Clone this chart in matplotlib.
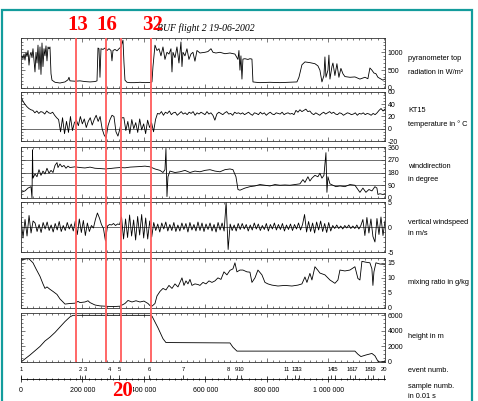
import numpy as np
import matplotlib
matplotlib.use("Agg")
import matplotlib.pyplot as plt
from matplotlib.ticker import MultipleLocator
from matplotlib.patches import Rectangle

plt.rcParams['font.family'] = ['Liberation Sans', 'DejaVu Sans']

# x values: sample number in thousands (1 sample = 0.01 s)
XMAX = 1184

pyr_t = [0, 3.3, 6.5, 9.8, 13, 16.3, 19.5, 22.8, 26, 29.3,
         32.5, 35.8, 39, 42.3, 45.5, 48.8, 52, 55.3, 58.5, 61.8,
         65, 68.3, 71.5, 74.8, 78, 81.3, 84.5, 87.8, 91.1, 94.3,
         97.6, 100.8, 110.6, 126.8, 143.1, 152.8, 156.1, 159.3, 175.6, 191.9,
         208.1, 224.4, 240.6, 247.2, 250.4, 253.7, 256.9, 260.2, 266.7, 273.2,
         279.7, 286.2, 292.7, 295.9, 299.2, 305.7, 312.2, 318.7, 325.2, 331.7,
         335, 338.2, 344.7, 354.5, 370.7, 387, 403.2, 419.5, 426, 429.3,
         435.8, 442.3, 448.8, 455.3, 461.8, 468.3, 474.8, 481.3, 487.8, 491.1,
         494.3, 500.8, 507.3, 513.8, 520.3, 523.6, 526.8, 533.3, 539.8, 546.3,
         552.8, 559.3, 565.8, 572.4, 582.1, 598.4, 608.1, 617.9, 624.4, 634.1,
         647.1, 663.4, 679.7, 695.9, 705.7, 708.9, 712.2, 715.4, 718.7, 721.9,
         728.4, 738.2, 744.7, 751.2, 754.5, 764.2, 777.2, 809.7, 842.3, 874.8,
         897.6, 904.1, 913.8, 923.6, 939.8, 956.1, 965.8, 972.3, 978.9, 985.4,
         988.6, 991.9, 998.4, 1001.6, 1004.9, 1011.4, 1014.6, 1021.1, 1027.6, 1034.1,
         1040.6, 1047.1, 1053.6, 1069.9, 1086.2, 1102.4, 1118.7, 1128.4, 1134.9, 1141.4,
         1147.9, 1154.5, 1161, 1170.7, 1177.2, 1183.7]
pyr_v = [870, 900, 820, 950, 780, 1000, 880, 1050, 640, 920,
         1000, 850, 1100, 780, 450, 1000, 700, 1200, 520, 1150,
         380, 1260, 600, 1100, 900, 1180, 760, 1150, 1100, 1150,
         400, 220, 160, 140, 170, 230, 300, 200, 190, 200,
         180, 170, 180, 200, 1120, 1100, 300, 1100, 1080, 1120,
         1050, 1100, 1050, 760, 1050, 1080, 1040, 1100, 1150, 1340,
         700, 220, 160, 150, 150, 160, 150, 155, 170, 600,
         1200, 1050, 1100, 900, 1150, 800, 1000, 950, 1100, 450,
         1000, 850, 1150, 700, 1290, 600, 1000, 900, 1100, 800,
         950, 1000, 750, 1050, 980, 1000, 1020, 1100, 1000, 980,
         1000, 960, 980, 950, 800, 1050, 500, 900, 250, 810,
         820, 800, 820, 810, 170, 160, 150, 160, 150, 160,
         170, 300, 650, 730, 710, 680, 620, 500, 170, 350,
         870, 300, 500, 920, 250, 600, 700, 350, 680, 300,
         550, 400, 320, 300, 310, 250, 300, 260, 560, 500,
         420, 400, 300, 250, 220, 250]

# KT15 temperature, evenly spaced readings across the flight
kt_v = [52, 45, 40, 36, 33, 31,
        30, 26, 29, 25, 28, 27, 24, 29, 26, 25, 27,
        22, 18,
        15, -5, 18, -8, 12, -6, 20, -3, 10,
        14, 5, 20, 8, 16, 2, 12, 18, 6, 15,
        22, 12, 20,
        0, -10, -15,
        5, 15, 22, 20, -5, -12, 0, 18,
        18, -3, 12, -8, 15, 0, 10, -6, 16, -2, 8, -8, 14, 2, 10,
        -5, 15, 25,
        24, 28, 22, 27, 25, 29, 23, 26, 27, 22, 25, 28, 24, 26, 23, 27, 25, 28, 22, 26, 24,
        27, 25, 23, 28, 24, 26, 22, 14, 24, 27, 25, 23, 26, 28, 24, 25, 22, 27, 25, 26, 24,
        26, 23, 25, 27, 24, 22, 26, 25, 23, 27, 24, 26, 22, 25, 27, 24, 23, 26, 25, 24, 27,
        23, 25, 26, 24, 25, 23,
        30, 27, 31, 28, 30, 32, 28, 29,
        25, 23, 26, 24, 22, 25, 27, 24, 26, 28, 25, 27, 24, 23, 26, 25, 22,
        24, 26, 25, 23, 24, 26, 22, 25, 24, 26, 23, 25, 24, 22, 25, 23, 26,
        30, 33, 29, 32]

wd_t = [0, 13, 22.8, 32.5, 35.8, 37.4, 39, 45.5, 52, 58.5,
        65, 71.5, 78, 84.5, 91.1, 97.6, 104.1, 110.6, 117.1, 120.3,
        126.8, 133.3, 139.8, 146.3, 152.8, 159.3, 175.6, 191.9, 208.1, 224.4,
        240.6, 256.9, 273.2, 289.4, 305.7, 321.9, 338.2, 354.5, 370.7, 387,
        403.2, 419.5, 435.8, 452, 461.8, 468.3, 471.5, 474.8, 478, 484.5,
        500.8, 517.1, 533.3, 549.6, 565.8, 582.1, 598.4, 614.6, 630.9, 647.1,
        663.4, 679.7, 689.4, 699.2, 705.7, 712.2, 728.4, 744.7, 761, 777.2,
        793.5, 809.7, 826, 842.3, 858.5, 874.8, 891, 907.3, 917, 923.6,
        933.3, 939.8, 946.3, 956.1, 965.8, 972.3, 978.9, 985.4, 991.9, 995.1,
        998.4, 1004.9, 1014.6, 1024.4, 1037.4, 1053.6, 1069.9, 1086.2, 1095.9, 1102.4,
        1112.2, 1121.9, 1131.7, 1141.4, 1151.2, 1157.7, 1161, 1167.5, 1177.2, 1183.7]
wd_v = [40, 50, 70, 80, 0, 340, 140, 170, 150, 200,
        160, 190, 170, 210, 175, 195, 180, 230, 250, 215,
        240, 220, 230, 210, 225, 215, 220, 215, 212, 218,
        210, 208, 205, 208, 212, 215, 213, 218, 220, 222,
        225, 220, 205, 195, 180, 200, 350, 10, 150, 190,
        180, 185, 195, 180, 190, 185, 195, 200, 190, 185,
        200, 205, 200, 150, 60, 55, 70, 80, 85, 95,
        90, 85, 95, 90, 92, 90, 95, 100, 130, 110,
        150, 120, 140, 160, 150, 175, 140, 160, 320, 40,
        150, 100, 90, 80, 85, 80, 95, 90, 60, 40,
        70, 40, 60, 50, 80, 70, 25, 30, 25, 30]

# vertical windspeed, evenly spaced readings across the flight
vw_v = [1.8, -2.2, 1.5, -1.8, 2.3, -1.2, 1.2,
        0.8, -0.9, 0.5, -1.1, 0.9, -0.4, 1.0, -0.7, 0.4, -1.0, 0.7, -0.6, 1.1, -0.9, 0.3, -0.7, 0.9, -0.4, 0.6, -0.8,
        1.2, -1.5, 1.6, -1.1, 1.3, -1.7, 0.8, -0.9,
        0.3, -0.2, 1.5, 2.8, 1.8, 0.5, -0.3, -2.8,
        0.2, 0.5, 0.4, 0.7, 0.3, 0.6, 0.5,
        2.0, -2.4, 1.6, -2.1, 2.4, -1.8, 1.4, -2.6, 2.1, -1.6, 2.5, -2.2, 1.8, -2.4, 1.2, -2.0,
        0.9, -0.7, 0.6, -1.0, 0.8, -0.4, 1.0, -0.8, 0.5, -0.7, 0.9, -0.9, 0.4, -0.8, 0.8, -0.5, 0.7, -1.0,
        0.9, -0.6, 0.5, -0.8, 1.0, -0.7, 0.8, -0.9, 0.6, -0.5, 0.8, -0.8, 0.5, -1.0, 0.9, -0.6, 0.8, -0.8,
        5, -4.5,
        0.6, -0.7, 0.4, -0.8, 0.7, -0.5, 0.7, -0.4, 0.5, -0.8, 0.4, -0.6, 0.8, -0.4, 0.6, -0.7, 0.3, -0.5, 0.7,
        -0.8, 0.5, -0.4, 0.8, -0.6, 0.5, -0.5, 0.7, -0.8, 0.4, -0.5, 0.6, -0.7, 0.5, -0.4, 0.8, -0.6, 0.5,
        2.5, -1,
        1.1, -0.9, 0.8, -1.2, 1.0, -0.6, 1.2, -0.9, 0.7, -1.1, 0.9, -0.8,
        0.3, -0.3, 0.4, -0.3, 0.2, -0.4, 0.3, -0.2, 0.4, -0.3, 0.2, -0.3, 0.4, -0.4, 0.3,
        1.5, -1.7, 1.9, -1.2, 1.6, -1.9, -3.0, 1.7, -1.5, 2.0, -1.7, 1.2]

mr_t = [0, 13, 22.8, 29.3, 39, 48.8, 61.8, 71.5, 78, 84.5,
        94.3, 104.1, 110.6, 117.1, 126.8, 136.6, 143.1, 159.3, 175.6, 185.4,
        191.9, 208.1, 217.9, 224.4, 240.6, 256.9, 273.2, 289.4, 305.7, 321.9,
        338.2, 348, 361, 374, 387, 400, 413, 419.5, 426, 435.8,
        442.3, 452, 461.8, 471.5, 481.3, 491.1, 500.8, 510.6, 517.1, 523.6,
        530.1, 536.6, 543.1, 549.6, 556.1, 565.8, 575.6, 582.1, 591.9, 601.6,
        611.4, 621.1, 630.9, 640.6, 650.4, 660.2, 669.9, 679.7, 689.4, 695.9,
        702.4, 712.2, 721.9, 734.9, 744.7, 751.2, 761, 770.7, 783.7, 793.5,
        803.2, 816.3, 835.8, 858.5, 881.3, 900.8, 913.8, 923.6, 930.1, 939.8,
        946.3, 956.1, 965.8, 972.3, 988.6, 1004.9, 1021.1, 1030.9, 1037.4, 1053.6,
        1069.9, 1086.2, 1095.9, 1102.4, 1108.9, 1121.9, 1134.9, 1141.4, 1144.7, 1148,
        1154.5, 1167.5, 1183.7]
mr_v = [16, 16.2, 16.5, 16, 15, 13, 10.5, 8, 6.5, 7,
        6.2, 5.5, 5, 4.5, 3, 2, 1.3, 1.5, 1.6, 2.2,
        1.8, 2, 2.4, 1.8, 1, 0.7, 0.6, 0.5, 0.5, 0.6,
        1.5, 2.5, 2, 2.4, 2, 2.3, 1.5, 0.8, 0.6, 1.5,
        4, 5.5, 6.5, 6, 7.5, 6.5, 8, 7, 8.5, 10,
        7.5, 9, 8, 9.5, 7.5, 8, 7.8, 7.5, 8.5, 8,
        9, 8.5, 9, 10, 9.5, 12, 11, 12.5, 13, 15,
        12, 12.6, 12.6, 12, 11.9, 8.5, 10, 12.6, 11, 8.5,
        8, 7.6, 7.3, 7.5, 7.3, 7.6, 8, 10.3, 8.5, 11.5,
        9.3, 13.7, 12.5, 11.6, 11, 9.3, 8.2, 9.3, 12.6, 12.3,
        12.6, 13.7, 9.8, 9.3, 15.5, 15.2, 15, 13, 7.5, 12,
        15, 14.6, 14.5]

ht_t = [0, 29.3, 61.8, 78, 94.3, 110.6, 126.8, 143.1, 159.3, 169.1,
        419.5, 426, 445.5, 461.8, 471.5, 679.7, 689.4, 702.4, 1086.2, 1095.9,
        1105.7, 1121.9, 1141.4, 1151.2, 1161, 1167.5, 1183.7]
ht_v = [0, 900, 2000, 2700, 3200, 3800, 4500, 5200, 5800, 6000,
        6000, 5900, 4400, 3000, 2500, 2450, 1900, 1400, 1400, 1000,
        700, 900, 1100, 800, 100, 0, 100]

event_t = [0, 192, 208, 289, 319, 416, 527, 673, 702, 715,
           865, 891, 904, 1008, 1021, 1070, 1086, 1128, 1145, 1182]
event_lbl = [str(i) for i in range(1, 21)]

sample_ticks = [0, 200, 400, 600, 800, 1000]
sample_lbl = ['0', '200 000', '400 000', '600 000', '800 000', '1 000 000']

mark_t = [179, 276, 325, 423]
mark_lbl = ['13', '16', '20', '32']
mark_top = [True, True, False, True]

W, H = 478, 401
L, R = 21, 385


def box(top, bottom):
    return [L / W, 1 - bottom / H, (R - L) / W, (bottom - top) / H]


fig = plt.figure(figsize=(W / 100, H / 100), dpi=100)
fig.patch.set_facecolor('white')

kt_t = np.linspace(0, XMAX, len(kt_v))
vw_t = np.linspace(0, XMAX, len(vw_v))

panels = [
    ((38, 88), pyr_t, pyr_v, (0, 1400), [0, 500, 1000], ['0', '500', '1000'], 100, []),
    ((92, 141), kt_t, kt_v, (-20, 60), [-20, 0, 20, 40, 60], ['-20', '0', '20', '40', '60'], 5, [0]),
    ((147, 198), wd_t, wd_v, (0, 360), [0, 90, 180, 270, 360], ['0', '90', '180', '270', '360'], 30, [90, 180, 270]),
    ((202, 252), vw_t, vw_v, (-5, 5), [-5, 0, 5], ['-5', '0', '5'], 1, [0]),
    ((258, 308), mr_t, mr_v, (0, 16.6), [0, 5, 10, 15], ['0', '5', '10', '15'], 1, []),
    ((313, 362), ht_t, ht_v, (0, 6300), [0, 2000, 4000, 6000], ['0', '2000', '4000', '6000'], 500, []),
]

for (top, bot), t, v, ylim, yt, ylbl, ymin, grid in panels:
    ax = fig.add_axes(box(top, bot))
    for y in grid:
        ax.axhline(y, color='#555555', lw=0.6, zorder=1)
    ax.plot(t, v, color='black', lw=0.6, zorder=2)
    ax.set_xlim(0, XMAX)
    ax.set_ylim(*ylim)
    ax.set_yticks(yt)
    ax.set_yticklabels(ylbl)
    ax.yaxis.set_minor_locator(MultipleLocator(ymin))
    ax.xaxis.set_major_locator(MultipleLocator(200))
    ax.xaxis.set_minor_locator(MultipleLocator(20))
    ax.tick_params(which='both', direction='in', top=True, bottom=True, left=True, right=True,
                   labelleft=False, labelbottom=False, labelright=True,
                   labelsize=5, pad=2, width=0.5, color='#444444')
    ax.tick_params(which='major', length=3)
    ax.tick_params(which='minor', length=1.5)
    for s in ax.spines.values():
        s.set_linewidth(0.6)
        s.set_color('#333333')

# sample number axis with event ticks
axb = fig.add_axes(box(375, 379))
axb.set_xlim(0, XMAX)
axb.set_ylim(0, 1)
for s in ['left', 'right', 'top']:
    axb.spines[s].set_visible(False)
axb.spines['bottom'].set_linewidth(0.6)
axb.set_yticks([])
axb.set_xticks(sample_ticks)
axb.set_xticklabels(sample_lbl)
axb.xaxis.set_minor_locator(MultipleLocator(20))
axb.tick_params(which='both', direction='inout', labelsize=5, pad=4, width=0.5)
axb.tick_params(which='major', length=4)
axb.tick_params(which='minor', length=2)
axb.vlines(event_t, 0, 1, color='black', lw=0.5)
sec = axb.secondary_xaxis('top')
sec.set_xticks(event_t)
sec.set_xticklabels(event_lbl)
sec.spines['top'].set_visible(False)
sec.tick_params(length=0, labelsize=4.2, pad=2.5)

# red flight-leg markers across all panels
ov = fig.add_axes(box(38, 362), zorder=10)
ov.set_xlim(0, XMAX)
ov.axis('off')
for x, lbl, up in zip(mark_t, mark_lbl, mark_top):
    ov.axvline(x, color='#ff5c5c', lw=1.3)
    if up:
        ov.annotate(lbl, xy=(x, 1), xycoords=('data', 'axes fraction'), xytext=(1, 2),
                    textcoords='offset points', ha='center', va='bottom', color='red',
                    fontsize=15, fontweight='bold', family='Liberation Serif', annotation_clip=False)
    else:
        ov.annotate(lbl, xy=(x, 0), xycoords=('data', 'axes fraction'), xytext=(1, -14),
                    textcoords='offset points', ha='center', va='top', color='red',
                    fontsize=15, fontweight='bold', family='Liberation Serif', annotation_clip=False,
                    bbox=dict(facecolor='white', edgecolor='none', pad=0.5))

fig.text(157 / W, 1 - 28 / H, 'BUF flight 2 19-06-2002', family='Liberation Serif', style='italic',
         fontsize=7, va='center', ha='left')

right_labels = [
    ('pyranometer top', 58), ('radiation in W/m²', 72),
    ('KT15', 111), ('temperature in ° C', 124),
    ('winddirection', 166), ('in degree', 179),
    ('vertical windspeed', 222), ('in m/s', 234),
    ('mixing ratio in g/kg', 283),
    ('height in m', 337),
    ('event numb.', 370), ('sample numb.', 386), ('in 0.01 s', 397),
]
for txt, y in right_labels:
    fig.text(408 / W, 1 - y / H, txt, fontsize=5.3, va='center', ha='left')

# teal frame
fig.add_artist(Rectangle((1.5 / W, -0.05), 470.5 / W, 1.05 - 10 / H, transform=fig.transFigure,
                         fill=False, edgecolor='#139c9c', lw=1.6))

fig.savefig('out.png', dpi=100)
